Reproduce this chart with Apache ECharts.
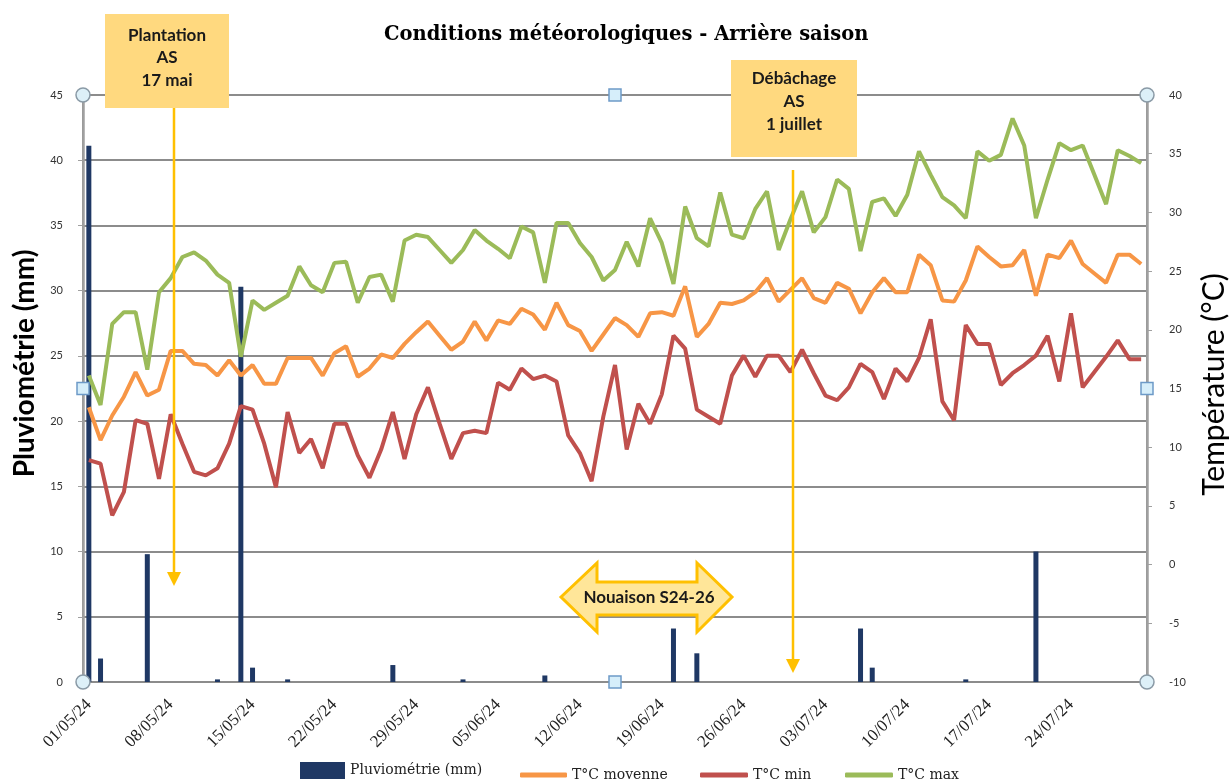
<!DOCTYPE html>
<html><head><meta charset="utf-8">
<script src="https://cdn.jsdelivr.net/npm/echarts@6/dist/echarts.min.js"></script>
<style>html,body{margin:0;padding:0;background:#fff}#c{width:1230px;height:779px}</style>
</head><body><div id="c"></div>
<script>
// ---- data ----
const dates = [
'01/05/24','02/05/24','03/05/24','04/05/24','05/05/24','06/05/24','07/05/24','08/05/24','09/05/24','10/05/24',
'11/05/24','12/05/24','13/05/24','14/05/24','15/05/24','16/05/24','17/05/24','18/05/24','19/05/24','20/05/24',
'21/05/24','22/05/24','23/05/24','24/05/24','25/05/24','26/05/24','27/05/24','28/05/24','29/05/24','30/05/24',
'31/05/24','01/06/24','02/06/24','03/06/24','04/06/24','05/06/24','06/06/24','07/06/24','08/06/24','09/06/24',
'10/06/24','11/06/24','12/06/24','13/06/24','14/06/24','15/06/24','16/06/24','17/06/24','18/06/24','19/06/24',
'20/06/24','21/06/24','22/06/24','23/06/24','24/06/24','25/06/24','26/06/24','27/06/24','28/06/24','29/06/24',
'30/06/24','01/07/24','02/07/24','03/07/24','04/07/24','05/07/24','06/07/24','07/07/24','08/07/24','09/07/24',
'10/07/24','11/07/24','12/07/24','13/07/24','14/07/24','15/07/24','16/07/24','17/07/24','18/07/24','19/07/24',
'20/07/24','21/07/24','22/07/24','23/07/24','24/07/24','25/07/24','26/07/24','27/07/24','28/07/24','29/07/24',
'30/07/24'];
const rain = [
41.1,1.8,0,0,0,9.8,0,0,0,0,
0,0.2,0,30.3,1.1,0,0,0.2,0,0,
0,0,0,0,0,0,1.3,0,0,0,
0,0,0.2,0,0,0,0,0,0,0.5,
0,0,0,0,0,0,0,0,0,0,
4.1,0,2.2,0,0,0,0,0,0,0,
0,0,0,0,0,0,4.1,1.1,0,0,
0,0,0,0,0,0.2,0,0,0,0,
0,10.0,0,0,0,0,0,0,0,0,
0];
const tMean = [
13.4,10.6,12.7,14.3,16.4,14.4,14.9,18.2,18.2,17.1,
17.0,16.1,17.4,16.1,17.0,15.4,15.4,17.6,17.6,17.6,
16.1,18.0,18.6,16.0,16.7,17.9,17.6,18.8,19.8,20.7,
19.5,18.3,19.0,20.7,19.1,20.8,20.5,21.8,21.3,20.0,
22.3,20.4,19.9,18.2,19.6,21.0,20.4,19.4,21.4,21.5,
21.2,23.7,19.4,20.5,22.3,22.2,22.5,23.2,24.4,22.4,
23.4,24.4,22.7,22.3,24.0,23.5,21.4,23.2,24.4,23.2,
23.2,26.4,25.5,22.5,22.4,24.2,27.1,26.2,25.4,25.5,
26.8,22.9,26.4,26.1,27.6,25.6,24.8,24.0,26.4,26.4,
25.6];
const tMin = [
8.9,8.6,4.2,6.2,12.3,12.0,7.3,12.8,10.3,7.9,
7.6,8.2,10.3,13.5,13.2,10.3,6.6,13.0,9.5,10.7,
8.2,12.0,12.0,9.3,7.4,9.8,13.0,9.0,12.8,15.1,
12.0,9.0,11.2,11.4,11.2,15.5,14.9,16.7,15.8,16.1,
15.6,11.0,9.5,7.1,12.6,17.0,9.8,13.7,12.0,14.5,
19.5,18.4,13.2,12.6,12.0,16.1,17.8,16.0,17.8,17.8,
16.4,18.3,16.3,14.4,14.0,15.1,17.1,16.4,14.1,16.7,
15.6,17.6,20.9,13.9,12.3,20.4,18.8,18.8,15.3,16.3,
17.0,17.8,19.5,15.6,21.4,15.1,16.4,17.7,19.1,17.5,
17.5];
const tMax = [
16.1,13.6,20.5,21.5,21.5,16.6,23.2,24.4,26.2,26.6,
25.9,24.7,24.0,17.7,22.5,21.7,22.3,22.9,25.4,23.8,
23.2,25.7,25.8,22.3,24.5,24.7,22.4,27.6,28.1,27.9,
26.8,25.7,26.8,28.5,27.6,26.9,26.1,28.8,28.3,24.0,
29.1,29.1,27.4,26.2,24.2,25.1,27.5,25.4,29.5,27.4,
23.9,30.5,27.8,27.1,31.7,28.1,27.8,30.3,31.8,26.8,
29.4,31.8,28.3,29.6,32.8,32.0,26.7,30.9,31.2,29.7,
31.5,35.2,33.2,31.3,30.6,29.5,35.2,34.4,34.9,38.0,
35.7,29.5,32.8,35.9,35.3,35.7,33.2,30.7,35.3,34.8,
34.2];
const seriesNames = ['Pluviométrie (mm)','T°C moyenne','T°C min','T°C max'];
const annotations = {
  plantation: 'Plantation\nAS\n17 mai',
  debachage: 'Débâchage\nAS\n1 juillet',
  nouaison: 'Nouaison S24-26'
};

// ---- layout ----
const L = 83, T = 95, R = 1147, B = 682;
const gray = '#8c8c8c';
const annotColor = '#FFC000';

const chart = echarts.init(document.getElementById('c'), null, {renderer:'canvas'});

function handleCircle(x, y){
  return {type:'circle', shape:{cx:x, cy:y, r:7}, style:{fill:'#DDF0F8', stroke:'#8a9aa6', lineWidth:1.5}, z:120};
}
function handleSquare(x, y){
  return {type:'rect', shape:{x:x-6, y:y-6, width:12, height:12}, style:{fill:'#D6EEFA', stroke:'#6d9ac8', lineWidth:1.5}, z:120};
}

const graphics = [
  // Plantation box + arrow
  {type:'rect', shape:{x:105, y:14, width:124, height:94}, style:{fill:'#FFD97F'}, z:110},
  {type:'text', x:167, y:58, style:{text:annotations.plantation, fill:'#1a1a1a', font:'bold 17px Lato', align:'center', verticalAlign:'middle', lineHeight:22.5}, z:111},
  {type:'line', shape:{x1:174, y1:108, x2:174, y2:576}, style:{stroke:annotColor, lineWidth:2.5}, z:105},
  {type:'polygon', shape:{points:[[167,572],[181,572],[174,586]]}, style:{fill:annotColor}, z:105},
  // Débâchage box + arrow
  {type:'rect', shape:{x:731, y:60, width:126, height:97}, style:{fill:'#FFD97F'}, z:110},
  {type:'text', x:794, y:102, style:{text:annotations.debachage, fill:'#1a1a1a', font:'bold 17px Lato', align:'center', verticalAlign:'middle', lineHeight:23}, z:111},
  {type:'line', shape:{x1:793, y1:170, x2:793, y2:662}, style:{stroke:annotColor, lineWidth:2.5}, z:105},
  {type:'polygon', shape:{points:[[786,659],[800,659],[793,673]]}, style:{fill:annotColor}, z:105},
  // Nouaison double arrow
  {type:'polygon', shape:{points:[[561,597],[597,563],[597,582],[697,582],[697,563],[732,597],[697,632],[697,615],[597,615],[597,632]]},
    style:{fill:'#FFE699', stroke:annotColor, lineWidth:3, lineJoin:'miter'}, z:110},
  {type:'text', x:649, y:598, style:{text:annotations.nouaison, fill:'#1a1a1a', font:'bold 17px Lato', align:'center', verticalAlign:'middle'}, z:111},
  // selection handles
  handleCircle(L,T), handleCircle(R,T), handleCircle(L,B), handleCircle(R,B),
  handleSquare((L+R)/2, T), handleSquare((L+R)/2, B), handleSquare(L, (T+B)/2), handleSquare(R, (T+B)/2)
];

const legendBase = {orient:'horizontal', padding:0, itemGap:0,
  textStyle:{fontFamily:'DejaVu Serif', fontSize:14, color:'#222'}};

const option = {
  animation:false,
  backgroundColor:'#ffffff',
  title:{text:'Conditions météorologiques - Arrière saison', left:384, top:25, padding:0,
    textStyle:{fontFamily:'DejaVu Serif', fontWeight:'bold', fontSize:19.5, color:'#000'}},
  grid:{left:L, right:1230-R, top:T, bottom:779-B, containLabel:false, outerBoundsMode:'none',
    show:true, borderColor:gray, borderWidth:2},
  legend:[
    Object.assign({}, legendBase, {data:[seriesNames[0]], left:300, top:762, itemWidth:45, itemHeight:17, icon:'rect'}),
    Object.assign({}, legendBase, {data:[seriesNames[1]], left:520, top:768, itemWidth:47, itemHeight:5, icon:'roundRect'}),
    Object.assign({}, legendBase, {data:[seriesNames[2]], left:700, top:768, itemWidth:48, itemHeight:5, icon:'roundRect'}),
    Object.assign({}, legendBase, {data:[seriesNames[3]], left:845, top:768, itemWidth:48, itemHeight:5, icon:'roundRect'})
  ],
  xAxis:{type:'category', data:dates, boundaryGap:true,
    axisLine:{lineStyle:{color:gray, width:2}},
    axisTick:{show:false},
    axisLabel:{interval:6, rotate:45, fontSize:17, color:'#222', margin:20, fontFamily:'Liberation Serif'},
    splitLine:{show:false}},
  yAxis:[
    {type:'value', min:0, max:45, interval:5, position:'left',
      axisLine:{show:true, lineStyle:{color:'#a0a0a0', width:2.5}},
      axisTick:{show:true, length:5, lineStyle:{color:'#a0a0a0'}},
      axisLabel:{fontSize:11, color:'#333', margin:20, fontFamily:'Lato'},
      splitLine:{show:true, lineStyle:{color:gray, width:2}},
      name:seriesNames[0], nameLocation:'middle', nameGap:44, nameRotate:90,
      nameTextStyle:{fontSize:28, fontWeight:'bold', fontFamily:'Lato', color:'#000', padding:[0,0,0,50]}},
    {type:'value', min:-10, max:40, interval:5, position:'right',
      axisLine:{show:true, lineStyle:{color:'#a0a0a0', width:2.5}},
      axisTick:{show:true, length:5, lineStyle:{color:'#a0a0a0'}},
      axisLabel:{fontSize:11, color:'#333', margin:22, fontFamily:'Lato'},
      splitLine:{show:false},
      name:'Température (°C)', nameLocation:'middle', nameGap:52, nameRotate:90,
      nameTextStyle:{fontSize:30, fontFamily:'Lato', color:'#000', padding:[0,0,0,8]}}
  ],
  series:[
    {name:seriesNames[0], type:'bar', yAxisIndex:0, data:rain, barWidth:5,
      itemStyle:{color:'#1F3864'}},
    {name:seriesNames[1], type:'line', yAxisIndex:1, data:tMean, symbol:'none',
      itemStyle:{color:'#F79646'}, lineStyle:{color:'#F79646', width:4}},
    {name:seriesNames[2], type:'line', yAxisIndex:1, data:tMin, symbol:'none',
      itemStyle:{color:'#C0504D'}, lineStyle:{color:'#C0504D', width:4}},
    {name:seriesNames[3], type:'line', yAxisIndex:1, data:tMax, symbol:'none',
      itemStyle:{color:'#9BBB59'}, lineStyle:{color:'#9BBB59', width:4}}
  ],
  graphic:{elements:graphics}
};
chart.setOption(option);
</script>
</body></html>
